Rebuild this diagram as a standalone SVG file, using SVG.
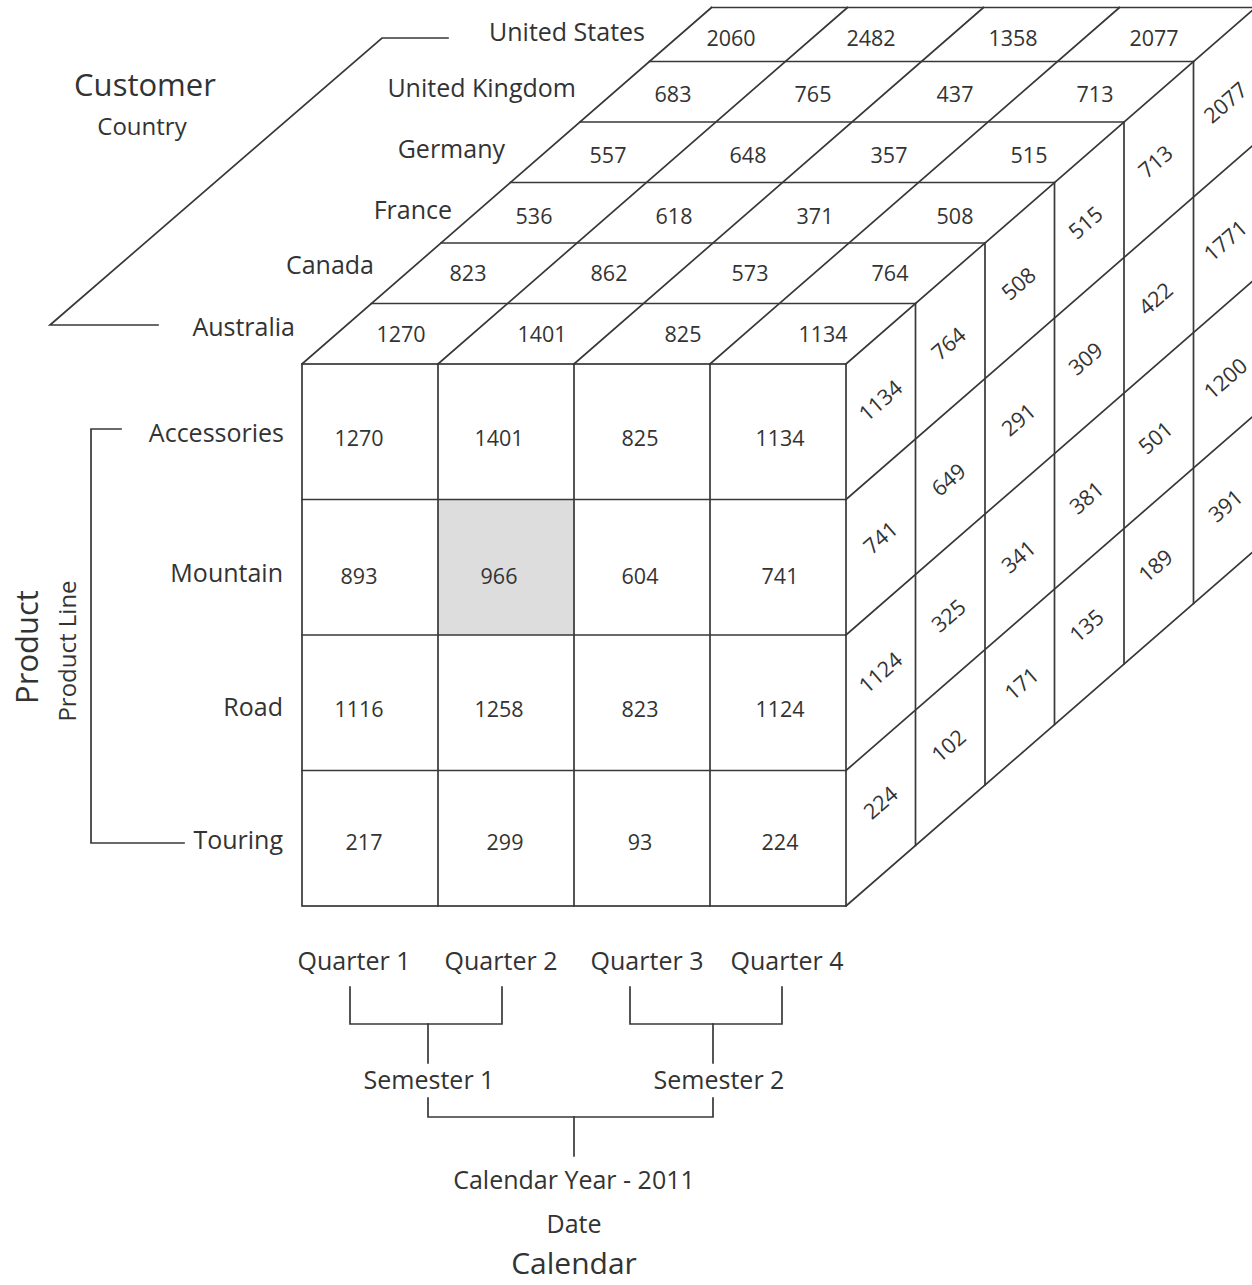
<svg xmlns="http://www.w3.org/2000/svg" width="1252" height="1285" viewBox="0 0 1252 1285">
<style>
  .ln{stroke:#383838;stroke-width:1.7;fill:none;stroke-linecap:square}
  text{font-family:"Open Sans","Liberation Sans",sans-serif;fill:#333}
  .num{font-size:21.5px;text-anchor:middle;dominant-baseline:central}
  .lbl{font-size:25px;text-anchor:end}
  .ctr{font-size:25px;text-anchor:middle}
  .big{font-size:31px}
</style>
<rect width="1252" height="1285" fill="#fff"/>

<g id="front-face">
  <rect x="438" y="499.5" width="136" height="135.5" fill="#dcdddc"/>
  <rect class="ln" x="302" y="364" width="544" height="542"/>
  <path class="ln" d="M438 364V906M574 364V906M710 364V906M302 499.5H846M302 635H846M302 770.5H846"/>
  <text class="num" x="359" y="437">1270</text><text class="num" x="499" y="437">1401</text><text class="num" x="640" y="437">825</text><text class="num" x="780" y="437">1134</text>
  <text class="num" x="359" y="575">893</text><text class="num" x="499" y="575">966</text><text class="num" x="640" y="575">604</text><text class="num" x="780" y="575">741</text>
  <text class="num" x="359" y="708">1116</text><text class="num" x="499" y="708">1258</text><text class="num" x="640" y="708">823</text><text class="num" x="780" y="708">1124</text>
  <text class="num" x="364" y="841">217</text><text class="num" x="505" y="841">299</text><text class="num" x="640" y="841">93</text><text class="num" x="780" y="841">224</text>
</g>

<g id="top-face">
  <path class="ln" d="M371.5 303.5H915.5M441 243H985M510.5 182.5H1054.5M580 122H1124M649.5 61.5H1193.5M711.5 7.5H1252"/>
  <path class="ln" d="M302 364L711.5 7.5M438 364L847.5 7.5M574 364L983.5 7.5M710 364L1119.5 7.5M846 364L1263 1"/>
  <text class="num" x="731" y="37">2060</text><text class="num" x="871" y="37">2482</text><text class="num" x="1013" y="37">1358</text><text class="num" x="1154" y="37">2077</text>
  <text class="num" x="673" y="93">683</text><text class="num" x="813" y="93">765</text><text class="num" x="955" y="93">437</text><text class="num" x="1095" y="93">713</text>
  <text class="num" x="608" y="154">557</text><text class="num" x="748" y="154">648</text><text class="num" x="889" y="154">357</text><text class="num" x="1029" y="154">515</text>
  <text class="num" x="534" y="215">536</text><text class="num" x="674" y="215">618</text><text class="num" x="815" y="215">371</text><text class="num" x="955" y="215">508</text>
  <text class="num" x="468" y="272">823</text><text class="num" x="609" y="272">862</text><text class="num" x="750" y="272">573</text><text class="num" x="890" y="272">764</text>
  <text class="num" x="401" y="333">1270</text><text class="num" x="542" y="333">1401</text><text class="num" x="683" y="333">825</text><text class="num" x="823" y="333">1134</text>
</g>

<g id="right-face">
  <path class="ln" d="M915.5 303.5V845.5M985 243V785M1054.5 182.5V724.5M1124 122V664M1193.5 61.5V603.5"/>
  <path class="ln" d="M846 499.5L1263 136.5M846 635L1263 272M846 770.5L1263 407.5M846 906L1263 543"/>
  <text class="num" x="880" y="400" transform="rotate(-41 880 400)">1134</text>
  <text class="num" x="880" y="537" transform="rotate(-41 880 537)">741</text>
  <text class="num" x="880" y="672" transform="rotate(-41 880 672)">1124</text>
  <text class="num" x="880" y="802" transform="rotate(-41 880 802)">224</text>
  <text class="num" x="948" y="343" transform="rotate(-41 948 343)">764</text>
  <text class="num" x="948" y="479" transform="rotate(-41 948 479)">649</text>
  <text class="num" x="948" y="615" transform="rotate(-41 948 615)">325</text>
  <text class="num" x="948" y="745" transform="rotate(-41 948 745)">102</text>
  <text class="num" x="1018" y="283" transform="rotate(-41 1018 283)">508</text>
  <text class="num" x="1018" y="419" transform="rotate(-41 1018 419)">291</text>
  <text class="num" x="1018" y="556" transform="rotate(-41 1018 556)">341</text>
  <text class="num" x="1021" y="683" transform="rotate(-41 1021 683)">171</text>
  <text class="num" x="1085" y="222" transform="rotate(-41 1085 222)">515</text>
  <text class="num" x="1085" y="358" transform="rotate(-41 1085 358)">309</text>
  <text class="num" x="1086" y="497" transform="rotate(-41 1086 497)">381</text>
  <text class="num" x="1086" y="625" transform="rotate(-41 1086 625)">135</text>
  <text class="num" x="1155" y="161" transform="rotate(-41 1155 161)">713</text>
  <text class="num" x="1155" y="298" transform="rotate(-41 1155 298)">422</text>
  <text class="num" x="1155" y="437" transform="rotate(-41 1155 437)">501</text>
  <text class="num" x="1155" y="565" transform="rotate(-41 1155 565)">189</text>
  <text class="num" x="1225" y="102" transform="rotate(-41 1225 102)">2077</text>
  <text class="num" x="1225" y="240" transform="rotate(-41 1225 240)">1771</text>
  <text class="num" x="1225" y="378" transform="rotate(-41 1225 378)">1200</text>
  <text class="num" x="1225" y="505" transform="rotate(-41 1225 505)">391</text>
</g>

<g id="customer-axis">
  <text class="big" x="145" y="96" text-anchor="middle">Customer</text>
  <text x="142" y="135" font-size="24" text-anchor="middle">Country</text>
  <text class="lbl" x="645" y="41">United States</text>
  <text class="lbl" x="576" y="97">United Kingdom</text>
  <text class="lbl" x="505" y="158">Germany</text>
  <text class="lbl" x="452" y="219">France</text>
  <text class="lbl" x="374" y="274">Canada</text>
  <text class="lbl" x="295" y="336">Australia</text>
</g>

<g id="product-axis">
  <text class="big" transform="translate(38 647) rotate(-90)" text-anchor="middle">Product</text>
  <text transform="translate(76 651) rotate(-90)" font-size="24" text-anchor="middle">Product Line</text>
  <text class="lbl" x="284" y="442">Accessories</text>
  <text class="lbl" x="283" y="582">Mountain</text>
  <text class="lbl" x="283" y="716">Road</text>
  <text class="lbl" x="283" y="849">Touring</text>
</g>

<g id="calendar-axis">
  <text class="ctr" x="354" y="970">Quarter 1</text>
  <text class="ctr" x="501" y="970">Quarter 2</text>
  <text class="ctr" x="647" y="970">Quarter 3</text>
  <text class="ctr" x="787" y="970">Quarter 4</text>
  <text class="ctr" x="429" y="1089">Semester 1</text>
  <text class="ctr" x="719" y="1089">Semester 2</text>
  <text class="ctr" x="574" y="1189">Calendar Year - 2011</text>
  <text class="ctr" x="574" y="1233">Date</text>
  <text x="574" y="1274" font-size="30" text-anchor="middle">Calendar</text>
</g>

<g id="connectors">
  <polyline class="ln" points="448,38 382,38 50,325 158,325"/>
  <polyline class="ln" points="121,429 91,429 91,843 184,843"/>
  <polyline class="ln" points="350,987 350,1024 502,1024 502,987"/>
  <line class="ln" x1="428" y1="1024" x2="428" y2="1063"/>
  <polyline class="ln" points="630,987 630,1024 782,1024 782,987"/>
  <line class="ln" x1="713" y1="1024" x2="713" y2="1063"/>
  <polyline class="ln" points="428,1098 428,1117 713,1117 713,1098"/>
  <line class="ln" x1="574" y1="1117" x2="574" y2="1156"/>
</g>
</svg>
